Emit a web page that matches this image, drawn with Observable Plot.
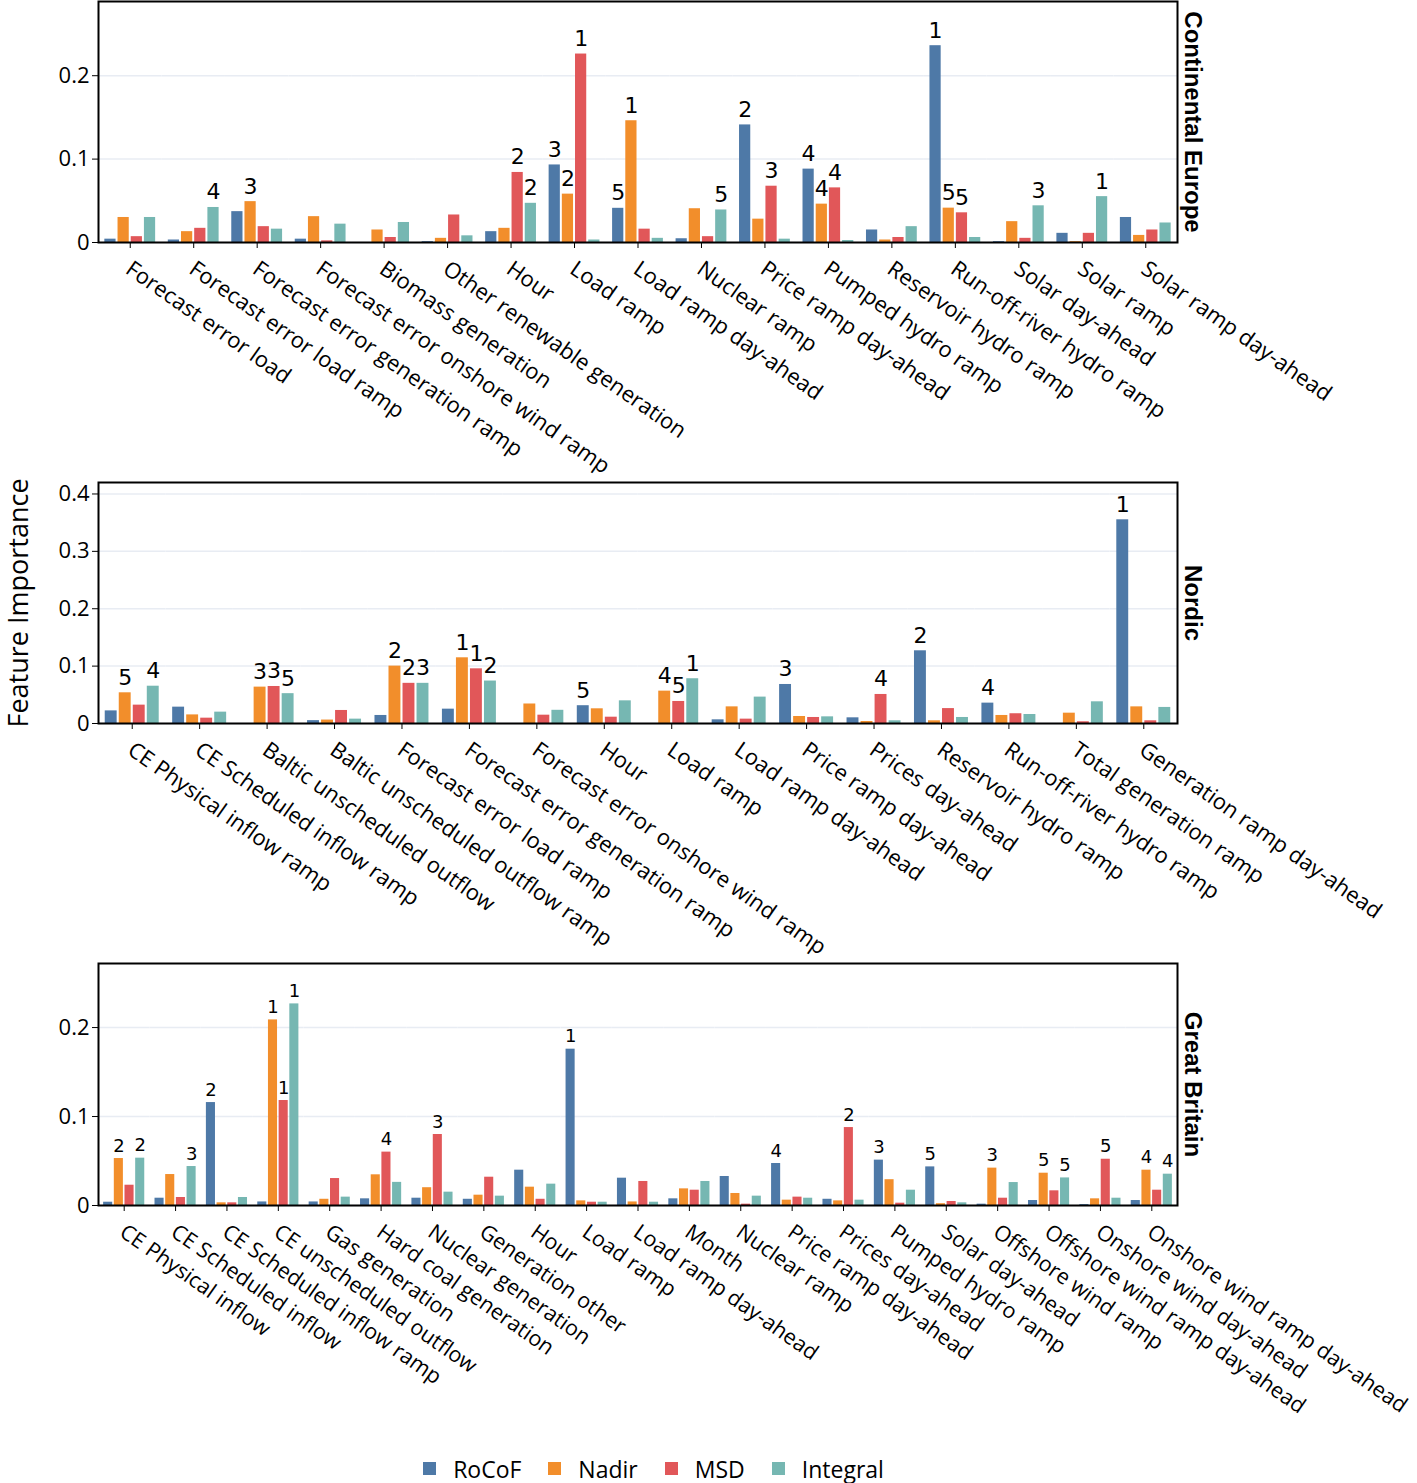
<!DOCTYPE html>
<html><head><meta charset="utf-8">
<script src="https://cdn.jsdelivr.net/npm/d3@7"></script>
<script src="https://cdn.jsdelivr.net/npm/@observablehq/plot@0.6"></script>
<style>
html,body{margin:0;background:#fff;font-family:"Open Sans",sans-serif;overflow:hidden;}
#chart{width:1417px;}
#chart svg{display:block;overflow:visible;}
#legend{display:flex;justify-content:center;margin-top:12px;width:1330px;}
#legend svg{margin-right:17px !important;}
</style></head><body><div id="chart"></div><div id="legend"></div>
<script>
const metrics = ["RoCoF", "Nadir", "MSD", "Integral"];
const colors = ["#4e79a7", "#f28e2b", "#e15759", "#76b7b2"];

// Continental Europe
const ceFeatures = ["Forecast error load","Forecast error load ramp","Forecast error generation ramp","Forecast error onshore wind ramp","Biomass generation","Other renewable generation","Hour","Load ramp","Load ramp day-ahead","Nuclear ramp","Price ramp day-ahead","Pumped hydro ramp","Reservoir hydro ramp","Run-off-river hydro ramp","Solar day-ahead","Solar ramp","Solar ramp day-ahead"];
const ceRoCoF    = [0.004,0.003,0.037,0.004,0,0.001,0.013,0.093,0.041,0.0045,0.141,0.088,0.015,0.236,0.001,0.011,0.030];
const ceNadir    = [0.030,0.013,0.049,0.031,0.015,0.005,0.017,0.058,0.146,0.0405,0.028,0.046,0.003,0.0412,0.025,0.001,0.0085];
const ceMSD      = [0.007,0.017,0.019,0.002,0.006,0.033,0.084,0.226,0.016,0.007,0.0675,0.0655,0.006,0.0356,0.005,0.011,0.015];
const ceIntegral = [0.030,0.042,0.016,0.022,0.024,0.008,0.047,0.003,0.005,0.039,0.004,0.0024,0.019,0.006,0.044,0.055,0.0234];

// Nordic
const noFeatures = ["CE Physical inflow ramp","CE Scheduled inflow ramp","Baltic unscheduled outflow","Baltic unscheduled outflow ramp","Forecast error load ramp","Forecast error generation ramp","Forecast error onshore wind ramp","Hour","Load ramp","Load ramp day-ahead","Price ramp day-ahead","Prices day-ahead","Reservoir hydro ramp","Run-off-river hydro ramp","Total generation ramp","Generation ramp day-ahead"];
const noRoCoF    = [0.022,0.0285,0,0.005,0.014,0.025,0,0.031,0,0.0064,0.068,0.0099,0.1267,0.0355,0,0.355];
const noNadir    = [0.0535,0.015,0.0634,0.006,0.100,0.1145,0.034,0.0256,0.0564,0.029,0.0122,0.0035,0.0047,0.014,0.018,0.029];
const noMSD      = [0.032,0.0093,0.0645,0.0227,0.070,0.0953,0.0145,0.011,0.0384,0.0076,0.0105,0.0506,0.026,0.017,0.003,0.0047];
const noIntegral = [0.065,0.0198,0.052,0.0076,0.070,0.074,0.023,0.0395,0.078,0.046,0.0116,0.0047,0.0105,0.0157,0.0378,0.028];

// Great Britain
const gbFeatures = ["CE Physical inflow","CE Scheduled inflow","CE Scheduled inflow ramp","CE unscheduled outflow","Gas generation","Hard coal generation","Nuclear generation","Generation other","Hour","Load ramp","Load ramp day-ahead","Month","Nuclear ramp","Price ramp day-ahead","Prices day-ahead","Pumped hydro ramp","Solar day-ahead","Offshore wind ramp","Offshore wind ramp day-ahead","Onshore wind day-ahead","Onshore wind ramp day-ahead"];
const gbRoCoF    = [0.0037,0.0082,0.1157,0.004,0.004,0.0075,0.0082,0.007,0.0397,0.1757,0.0307,0.0075,0.0326,0.0472,0.007,0.051,0.0434,0.0015,0.0056,0.001,0.0056];
const gbNadir    = [0.0528,0.0348,0.003,0.2086,0.007,0.0345,0.020,0.0116,0.0206,0.0052,0.004,0.0187,0.0135,0.006,0.0052,0.029,0.002,0.042,0.0363,0.0075,0.0397];
const gbMSD      = [0.0228,0.009,0.003,0.118,0.0303,0.060,0.0798,0.0318,0.007,0.0037,0.027,0.0172,0.0015,0.0094,0.0876,0.0026,0.0045,0.0082,0.0165,0.052,0.0172];
const gbIntegral = [0.0532,0.0438,0.009,0.2266,0.0094,0.026,0.015,0.0105,0.024,0.0037,0.0037,0.027,0.0105,0.0082,0.006,0.0172,0.003,0.0258,0.031,0.0082,0.0352];

const yTicksCE = [0, 0.1, 0.2];
const yTicksNO = [0, 0.1, 0.2, 0.3, 0.4];
const yTicksGB = [0, 0.1, 0.2];

function panel({features, series, title, yMax, yTicks, rankSize, rankDy, labelSize, height, marginBottom, yLabel}) {
  const rows = [];
  features.forEach((f, i) => metrics.forEach((m, j) => rows.push({feature: f, metric: m, value: series[j][i]})));
  metrics.forEach(m => {
    rows.filter(d => d.metric === m).sort((a, b) => b.value - a.value)
      .slice(0, 5).forEach((d, k) => d.rank = k + 1);
  });
  const marks = [
    Plot.ruleY(yTicks, {stroke: "#e8ecf3", strokeWidth: 1.5}),
    Plot.barY(rows, {fx: "feature", x: "metric", y: "value", fill: "metric"}),
    Plot.text(rows.filter(d => d.rank), {fx: "feature", x: "metric", y: "value", text: "rank",
      lineAnchor: "bottom", dy: rankDy, fontSize: rankSize, fontFamily: "DejaVu Sans", fill: "black"}),
    Plot.axisY({ticks: yTicks, tickFormat: d => d3.format("~g")(d), tickSize: 6, fontSize: 22, label: null}),
    Plot.axisFx({anchor: "bottom", tickSize: 6, tickFormat: () => "", label: null}),
    Plot.axisFx({anchor: "bottom", tickSize: 0, tickPadding: 24, dx: -2, tickRotate: 35, fontSize: labelSize, label: null}),
    Plot.frame({facet: "super", stroke: "black", strokeWidth: 2}),
    Plot.text([title], {facet: "super", frameAnchor: "right", rotate: 90, dx: 15,
      textAnchor: "middle", lineAnchor: "middle", fontWeight: "bold", fontSize: 24, fontFamily: "Liberation Sans", fill: "black"})
  ];
  if (yLabel) marks.push(Plot.text([yLabel], {facet: "super", frameAnchor: "left", rotate: -90, dx: -79,
      textAnchor: "middle", lineAnchor: "middle", fontSize: 27, fill: "black"}));
  return Plot.plot({
    width: 1417, height, marginLeft: 98, marginRight: 240, marginTop: 1, marginBottom,
    facet: {marginLeft: 0, marginRight: 0, marginTop: 0, marginBottom: 0},
    style: {fontFamily: "Open Sans", fontSize: "20px", color: "black", background: "white", overflow: "visible"},
    fx: {domain: features, paddingInner: 0, paddingOuter: 0, round: false, label: null},
    x: {domain: metrics, paddingInner: 0.15, paddingOuter: 0.48, round: false, axis: null},
    y: {domain: [0, yMax], label: null},
    color: {domain: metrics, range: colors},
    marks
  });
}

const chart = document.getElementById("chart");
chart.appendChild(panel({features: ceFeatures, series: [ceRoCoF, ceNadir, ceMSD, ceIntegral], title: "Continental Europe",
  yMax: 0.289, yTicks: yTicksCE, rankSize: 22, rankDy: -8, labelSize: 22, height: 481, marginBottom: 239}));
chart.appendChild(panel({features: noFeatures, series: [noRoCoF, noNadir, noMSD, noIntegral], title: "Nordic",
  yMax: 0.42, yTicks: yTicksNO, rankSize: 22, rankDy: -8, labelSize: 22, height: 481, marginBottom: 239, yLabel: "Feature Importance"}));
chart.appendChild(panel({features: gbFeatures, series: [gbRoCoF, gbNadir, gbMSD, gbIntegral], title: "Great Britain",
  yMax: 0.272, yTicks: yTicksGB, rankSize: 18, rankDy: -7, labelSize: 21.5, height: 478, marginBottom: 235}));

const leg = Plot.legend({color: {domain: metrics, range: colors}, swatchSize: 13,
  style: {fontFamily: "Open Sans", fontSize: "23px", color: "black", justifyContent: "center", columnGap: "4px"}});
document.getElementById("legend").appendChild(leg);
</script></body></html>
